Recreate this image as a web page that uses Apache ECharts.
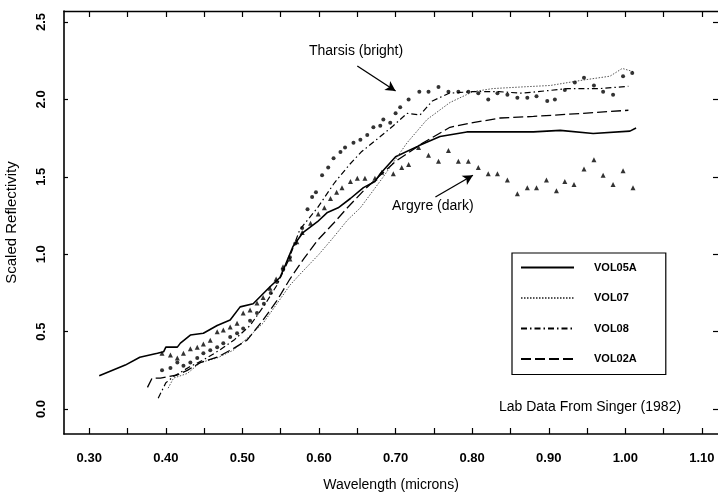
<!DOCTYPE html>
<html>
<head>
<meta charset="utf-8">
<script src="https://cdn.jsdelivr.net/npm/echarts@6/dist/echarts.min.js"></script>
<style>
html,body{margin:0;padding:0;background:#fff;}
#chart{width:718px;height:494px;}
</style>
</head>
<body>
<div id="chart"></div>
<script>
// ---- data (wavelength in microns, scaled reflectivity) ----
var xTicks = [0.30,0.35,0.40,0.45,0.50,0.55,0.60,0.65,0.70,0.75,0.80,0.85,0.90,0.95,1.00,1.05,1.10];
var xLabels = [0.30,0.40,0.50,0.60,0.70,0.80,0.90,1.00,1.10];
var yTicks = [0.0,0.5,1.0,1.5,2.0,2.5];

var vol05a = [[0.313,0.215],[0.347,0.284],[0.366,0.335],[0.389,0.36],[0.397,0.37],[0.40,0.40],[0.415,0.40],[0.419,0.426],[0.432,0.478],[0.449,0.49],[0.467,0.54],[0.484,0.575],[0.497,0.66],[0.514,0.68],[0.536,0.79],[0.549,0.85],[0.556,0.93],[0.566,1.05],[0.579,1.14],[0.598,1.21],[0.611,1.27],[0.625,1.30],[0.641,1.36],[0.658,1.43],[0.673,1.47],[0.68,1.52],[0.70,1.63],[0.73,1.70],[0.758,1.76],[0.793,1.79],[0.837,1.79],[0.88,1.79],[0.915,1.80],[0.958,1.78],[1.006,1.795],[1.014,1.815]];
var vol07 = [[0.403,0.135],[0.41,0.20],[0.428,0.23],[0.445,0.30],[0.467,0.33],[0.488,0.38],[0.508,0.465],[0.527,0.555],[0.545,0.68],[0.562,0.80],[0.575,0.87],[0.60,1.00],[0.619,1.11],[0.637,1.22],[0.654,1.30],[0.684,1.50],[0.715,1.72],[0.741,1.87],[0.771,1.98],[0.801,2.05],[0.827,2.07],[0.863,2.08],[0.902,2.09],[0.945,2.125],[0.98,2.15],[0.996,2.20],[1.01,2.18]];
var vol08 = [[0.39,0.07],[0.40,0.17],[0.41,0.21],[0.43,0.27],[0.45,0.32],[0.47,0.38],[0.49,0.45],[0.51,0.54],[0.53,0.68],[0.545,0.80],[0.56,0.96],[0.575,1.16],[0.598,1.30],[0.62,1.46],[0.64,1.58],[0.655,1.66],[0.68,1.76],[0.697,1.83],[0.715,1.91],[0.732,1.90],[0.748,1.99],[0.77,2.04],[0.80,2.05],[0.835,2.05],[0.865,2.04],[0.925,2.07],[0.967,2.07],[1.004,2.085]];
var vol02a = [[0.376,0.14],[0.382,0.20],[0.393,0.20],[0.415,0.22],[0.428,0.25],[0.445,0.30],[0.467,0.335],[0.488,0.39],[0.506,0.445],[0.527,0.575],[0.545,0.70],[0.562,0.84],[0.58,0.97],[0.598,1.09],[0.619,1.20],[0.637,1.30],[0.66,1.42],[0.70,1.60],[0.736,1.72],[0.771,1.82],[0.801,1.85],[0.837,1.88],[0.88,1.89],[0.945,1.91],[1.004,1.93]];
var tharsis = [[0.395,0.25],[0.406,0.265],[0.415,0.30],[0.423,0.28],[0.432,0.30],[0.441,0.33],[0.449,0.36],[0.458,0.38],[0.467,0.40],[0.475,0.425],[0.484,0.465],[0.493,0.49],[0.501,0.52],[0.51,0.57],[0.519,0.62],[0.528,0.68],[0.537,0.75],[0.545,0.82],[0.553,0.90],[0.562,0.98],[0.569,1.07],[0.578,1.17],[0.585,1.29],[0.591,1.37],[0.596,1.40],[0.604,1.51],[0.612,1.56],[0.619,1.62],[0.628,1.66],[0.634,1.69],[0.645,1.72],[0.654,1.74],[0.663,1.77],[0.671,1.82],[0.68,1.83],[0.684,1.87],[0.693,1.85],[0.70,1.91],[0.706,1.95],[0.717,2.00],[0.731,2.05],[0.743,2.05],[0.756,2.08],[0.769,2.05],[0.782,2.05],[0.795,2.05],[0.808,2.04],[0.821,2.00],[0.833,2.04],[0.846,2.03],[0.859,2.01],[0.872,2.01],[0.884,2.02],[0.898,1.99],[0.908,2.00],[0.921,2.06],[0.934,2.11],[0.946,2.14],[0.959,2.09],[0.971,2.05],[0.984,2.03],[0.997,2.15],[1.009,2.17]];
var argyre = [[0.395,0.36],[0.406,0.35],[0.415,0.33],[0.423,0.36],[0.432,0.39],[0.441,0.40],[0.449,0.42],[0.458,0.445],[0.467,0.50],[0.475,0.51],[0.484,0.53],[0.493,0.555],[0.501,0.62],[0.51,0.64],[0.519,0.685],[0.527,0.72],[0.536,0.78],[0.544,0.84],[0.553,0.92],[0.562,0.97],[0.571,1.08],[0.578,1.14],[0.589,1.20],[0.599,1.26],[0.607,1.30],[0.615,1.36],[0.623,1.40],[0.63,1.43],[0.641,1.47],[0.65,1.49],[0.66,1.49],[0.673,1.49],[0.682,1.53],[0.697,1.52],[0.708,1.56],[0.717,1.58],[0.73,1.69],[0.743,1.64],[0.756,1.60],[0.769,1.67],[0.782,1.60],[0.795,1.60],[0.808,1.56],[0.821,1.52],[0.833,1.52],[0.846,1.48],[0.859,1.39],[0.872,1.43],[0.884,1.43],[0.897,1.48],[0.910,1.41],[0.921,1.47],[0.933,1.45],[0.946,1.55],[0.959,1.61],[0.971,1.51],[0.984,1.45],[0.997,1.54],[1.010,1.43]];

// annotation arrows: [start, end] in data coords
var tharsisArrow = [[0.65,2.216],[0.70,2.054]];
var argyreArrow = [[0.752,1.37],[0.801,1.51]];

var FONT = 'Liberation Sans, Arial, Helvetica, sans-serif';
var chart = echarts.init(document.getElementById('chart'), null, {renderer:'canvas'});

function lineSeries(name, data, type, width, color){
  return {name:name, type:'line', data:data, symbol:'none', showSymbol:false,
    lineStyle:{color:color, width:width, type:type}, itemStyle:{color:color},
    animation:false, z:3};
}

var option = {
  animation:false,
  backgroundColor:'#fff',
  grid:{left:64, right:0, top:11, bottom:60, containLabel:false, outerBoundsMode:'none'},
  xAxis:[{
    type:'value', position:'bottom', min:0.267, max:1.121,
    name:'Wavelength (microns)', nameLocation:'middle', nameGap:44,
    nameTextStyle:{fontFamily:FONT, fontSize:14, color:'#000'},
    axisLine:{show:true, onZero:false, lineStyle:{color:'#000', width:1.6}},
    axisTick:{show:true, inside:true, length:6, customValues:xTicks, lineStyle:{color:'#000', width:1.2}},
    axisLabel:{show:true, customValues:xLabels, margin:18, fontFamily:FONT, fontSize:13, fontWeight:'bold', color:'#000',
      formatter:function(v){return Number(v).toFixed(2);}},
    splitLine:{show:false}
  },{
    type:'value', position:'top', min:0.267, max:1.121,
    axisLine:{show:true, onZero:false, lineStyle:{color:'#000', width:1.4}},
    axisTick:{show:true, inside:true, length:6, customValues:xTicks, lineStyle:{color:'#000', width:1.2}},
    axisLabel:{show:false}, splitLine:{show:false}
  }],
  yAxis:[{
    type:'value', position:'left', min:-0.161, max:2.571,
    name:'Scaled Reflectivity', nameLocation:'middle', nameGap:45,
    nameTextStyle:{fontFamily:FONT, fontSize:15, color:'#000'},
    axisLine:{show:true, onZero:false, lineStyle:{color:'#000', width:1.6}},
    axisTick:{show:true, inside:true, length:4, customValues:yTicks, lineStyle:{color:'#000', width:1.2}},
    axisLabel:{show:true, customValues:yTicks, rotate:90, margin:16, fontFamily:FONT, fontSize:13, fontWeight:'bold', color:'#000',
      formatter:function(v){return Number(v).toFixed(1);}},
    splitLine:{show:false}
  },{
    type:'value', position:'right', min:-0.161, max:2.571,
    axisLine:{show:false},
    axisTick:{show:true, inside:true, length:5, customValues:yTicks, lineStyle:{color:'#000', width:1.2}},
    axisLabel:{show:false}, splitLine:{show:false}
  }],
  legend:{
    orient:'vertical', left:512, top:253,
    data:['VOL05A','VOL07','VOL08','VOL02A'],
    itemWidth:53, itemHeight:10, itemGap:19.5,
    padding:[9,29,10,8],
    borderColor:'#000', borderWidth:1.2, backgroundColor:'#fff',
    itemStyle:{opacity:0},
    textStyle:{fontFamily:FONT, fontSize:11, fontWeight:'bold', color:'#000', padding:[0,0,0,15]}
  },
  graphic:[
    {type:'text', left:309, top:44, style:{text:'Tharsis (bright)', font:'14px '+FONT, fill:'#000'}},
    {type:'text', left:392, top:199, style:{text:'Argyre (dark)', font:'14px '+FONT, fill:'#000'}},
    {type:'text', left:499, top:400, style:{text:'Lab Data From Singer (1982)', font:'14px '+FONT, fill:'#000'}}
  ],
  series:[
    lineSeries('VOL05A', vol05a, 'solid', 1.6, '#000'),
    lineSeries('VOL07', vol07, [1.5,1.5], 1, '#555'),
    lineSeries('VOL08', vol08, [6,3,1.5,3], 1.2, '#000'),
    lineSeries('VOL02A', vol02a, [10,4], 1.3, '#000'),
    {name:'Tharsis (bright)', type:'scatter', data:tharsis, symbol:'circle', symbolSize:4,
      itemStyle:{color:'#000'}, z:4,
      markLine:{silent:true, symbol:['none','arrow'], symbolSize:[8,10], animation:false,
        label:{show:false}, lineStyle:{color:'#000', width:1.3, type:'solid'},
        data:[[{coord:tharsisArrow[0]},{coord:tharsisArrow[1]}],[{coord:argyreArrow[0]},{coord:argyreArrow[1]}]]}},
    {name:'Argyre (dark)', type:'scatter', data:argyre, symbol:'triangle', symbolSize:5,
      itemStyle:{color:'#000'}, z:4}
  ]
};
chart.setOption(option);
</script>
</body>
</html>
